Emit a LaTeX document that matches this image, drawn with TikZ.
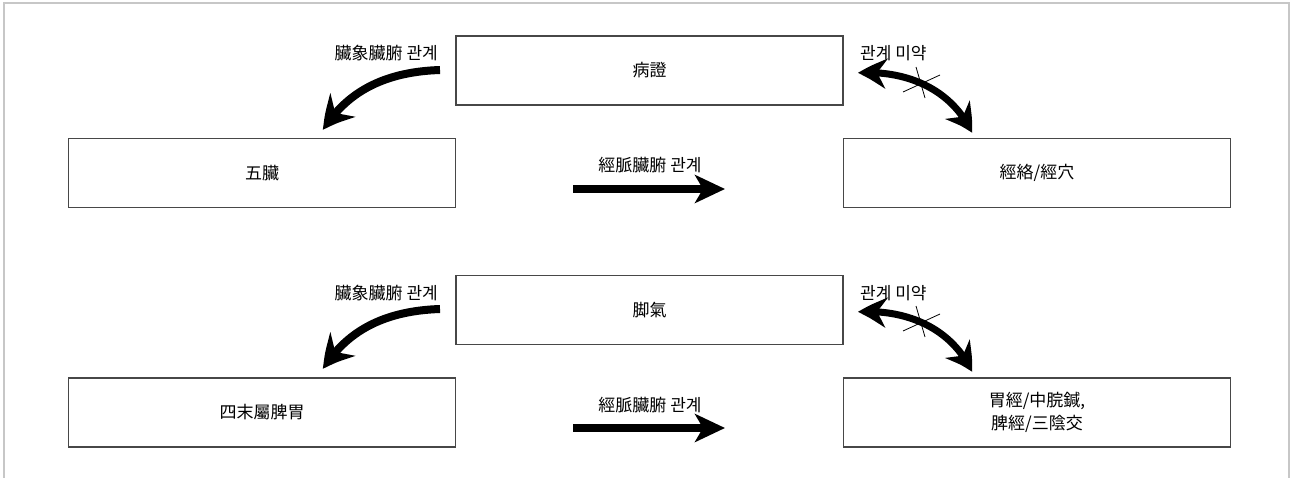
\documentclass[tikz,border=0pt]{standalone}
\usepackage{fontspec}
\setmainfont{Noto Sans CJK KR}
\usetikzlibrary{arrows.meta,bending}
\begin{document}
\begin{tikzpicture}[x=1pt,y=-1pt,
  box/.style={draw=black!72,line width=1.2pt,fill=white,minimum width=387pt,minimum height=69pt,inner sep=0pt,outer sep=0pt,font=\fontsize{17}{23}\selectfont,align=center},
  lbl/.style={font=\fontsize{17}{20}\selectfont,inner sep=0pt},
  bigarrow/.style={line width=8pt,-{Stealth[length=32pt,width=34pt,inset=11pt,bend]}},
  dblarrow/.style={line width=7pt,{Stealth[length=28pt,width=30pt,inset=9pt,bend]}-{Stealth[length=28pt,width=30pt,inset=9pt,bend]}},
  straightarrow/.style={line width=8pt,-{Stealth[length=30pt,width=28pt,inset=8pt]}},
  frameline/.style={draw=black!22,line width=2pt},
  crossline/.style={draw=black,line width=0.8pt}
]
\useasboundingbox (0,0) rectangle (1292,478);
\draw[frameline] (4,478) -- (4,3) -- (1289,3) -- (1289,478);

% upper section
\node[box] (bz) at (649.5,70.5) {病證};
\node[box] (wz) at (262,173) {五臟};
\node[box] (jl) at (1037,173) {經絡/經穴};
\node[lbl,anchor=east] (l1) at (438,53) {臟象臟腑 관계};
\node[lbl] (l2) at (650,165) {經脈臟腑 관계};
\node[lbl,anchor=west] (l3) at (860,53) {관계 미약};

\coordinate (a1s) at (440,70);
\coordinate (a1e) at (323,130);
\draw[bigarrow] (a1s) .. controls (380,72) and (345,95) .. (a1e);
\coordinate (a2s) at (573,189);
\coordinate (a2e) at (725,189);
\draw[straightarrow] (a2s) -- (a2e);
\coordinate (a3s) at (858,73);
\coordinate (a3e) at (972,133);
\draw[dblarrow] (a3s) .. controls (900,70) and (950,85) .. (a3e);
\coordinate (c1a) at (916,67); \coordinate (c1b) at (925,98);
\coordinate (c2a) at (903,92); \coordinate (c2b) at (940,75);
\draw[crossline] (c1a) -- (c1b);
\draw[crossline] (c2a) -- (c2b);

% lower section
\node[box] (jk) at (649.5,310) {脚氣};
\node[box] (sm) at (262,412.5) {四末屬脾胃};
\node[box] (wj) at (1037,412.5) {胃經/中脘鍼,\\脾經/三陰交};
\node[lbl,anchor=east] (l4) at (438,293) {臟象臟腑 관계};
\node[lbl] (l5) at (650,405) {經脈臟腑 관계};
\node[lbl,anchor=west] (l6) at (860,293) {관계 미약};

\coordinate (b1s) at (440,309);
\coordinate (b1e) at (323,369);
\draw[bigarrow] (b1s) .. controls (380,311) and (345,334) .. (b1e);
\coordinate (b2s) at (573,428);
\coordinate (b2e) at (725,428);
\draw[straightarrow] (b2s) -- (b2e);
\coordinate (b3s) at (858,312);
\coordinate (b3e) at (972,372);
\draw[dblarrow] (b3s) .. controls (900,309) and (950,324) .. (b3e);
\coordinate (d1a) at (916,306); \coordinate (d1b) at (925,337);
\coordinate (d2a) at (903,331); \coordinate (d2b) at (940,314);
\draw[crossline] (d1a) -- (d1b);
\draw[crossline] (d2a) -- (d2b);
\end{tikzpicture}
\end{document}
